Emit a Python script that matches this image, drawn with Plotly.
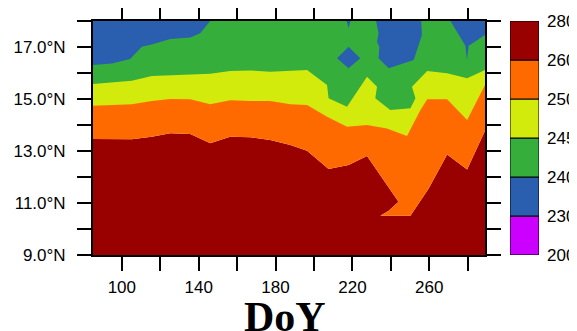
import plotly.graph_objects as go

# ---- axis extents ----
doy_min, doy_max = 85, 289
lat_min, lat_max = 9, 18

# ---- isotherm boundaries (DoY, latitude) ----
doy_260 = [85, 95, 105.2, 115.6, 125.2, 135.6, 146, 156.4, 166.8, 177.2, 187.7, 196.4, 207.6,
           218, 227.6, 238, 244, 238.9, 234.5, 250.2, 259.7, 269.3, 279.7, 289]
lat_260 = [13.46, 13.46, 13.45, 13.55, 13.68, 13.65, 13.30, 13.55, 13.53, 13.42, 13.23, 13.01, 12.31,
           12.46, 12.81, 11.69, 11.05, 10.70, 10.51, 10.51, 11.56, 12.87, 12.29, 13.78]

doy_250 = [85, 95.6, 105.2, 115.6, 125.2, 135.6, 146, 156.4, 166.8, 177.2, 187.7, 196.4, 206.8,
           217.2, 227.6, 238, 248.4, 255.4, 258.9, 269.3, 279.7, 289]
lat_250 = [14.74, 14.77, 14.80, 14.92, 15.00, 14.99, 14.80, 14.95, 14.92, 14.92, 14.80, 14.77, 14.32,
           13.93, 14.00, 13.87, 13.58, 14.58, 14.99, 14.99, 14.19, 15.54]

doy_245 = [85, 95.6, 105.2, 115.6, 125.2, 135.6, 146, 156.4, 166.8, 177.2, 187.7, 196.4, 206.8,
           207.6, 217.2, 227.6, 232.8, 231.9, 239.7, 250.2, 252.8, 251, 258.9, 269.3, 279.7, 289]
lat_245 = [15.58, 15.63, 15.70, 15.88, 15.91, 15.94, 15.97, 16.08, 16.10, 16.05, 16.08, 16.12, 15.54,
           15.03, 14.70, 15.86, 15.47, 15.03, 14.58, 14.64, 15.03, 15.47, 16.08, 15.99, 15.80, 16.12]

# 240 isotherm pieces (blue above / inside)
doy_240a = [85, 94.8, 104.3, 110.4, 115.6, 125.2, 135.6, 140.8, 146, 85]
lat_240a = [16.31, 16.37, 16.54, 17.01, 17.10, 17.31, 17.37, 17.53, 18, 18]
doy_240b = [212, 218, 224.1, 218]
lat_240b = [16.57, 17.01, 16.57, 16.18]
doy_240c = [217, 218, 219]
lat_240c = [18, 17.72, 18]
doy_240d = [232.3, 233.6, 232.8, 234.0, 233.6, 238.9, 251.9, 256.2, 255.8]
lat_240d = [18, 17.53, 17.2, 17.01, 16.57, 16.18, 16.5, 17.46, 18]
doy_240e = [271, 278.8, 279.6, 280.5, 289, 289]
lat_240e = [18, 17.05, 16.5, 17.05, 17.46, 18]

# ---- colour levels ----
levels = [200, 230, 240, 245, 250, 260, 280]
colors = ["#cc00ff", "#2a5fb0", "#36ae3c", "#d2ea0c", "#ff6a00", "#990000"]

# tick labels
x_ticks = [100, 120, 140, 160, 180, 200, 220, 240, 260, 280]
x_labels = ["100", "", "140", "", "180", "", "220", "", "260", ""]
y_ticks = [9, 10, 11, 12, 13, 14, 15, 16, 17, 18]
y_labels = ["9.0°N", "", "11.0°N", "", "13.0°N", "", "15.0°N", "", "17.0°N", ""]

fig = go.Figure()

def band(xs, ys, color):
    fig.add_trace(go.Scatter(x=xs, y=ys, mode="lines", fill="toself", fillcolor=color,
                             line=dict(width=0, color=color), hoverinfo="skip",
                             showlegend=False, xaxis="x", yaxis="y"))

# 260-280 (below 260 isotherm)
band(doy_260 + [doy_max, doy_min], lat_260 + [lat_min, lat_min], colors[5])
# 250-260 (above 260 isotherm)
band(doy_260 + [doy_max, doy_min], lat_260 + [lat_max, lat_max], colors[4])
# 245-250
band(doy_250 + [doy_max, doy_min], lat_250 + [lat_max, lat_max], colors[3])
# 240-245
band(doy_245 + [doy_max, doy_min], lat_245 + [lat_max, lat_max], colors[2])
# 230-240 pieces
for xs, ys in [(doy_240a, lat_240a), (doy_240b, lat_240b), (doy_240c, lat_240c),
               (doy_240d, lat_240d), (doy_240e, lat_240e)]:
    band(xs, ys, colors[1])

# ---- label bar (colour key) ----
n = len(colors)
fig.add_trace(go.Bar(x=[0] * n, y=[1] * n, base=list(range(n)), width=1,
                     marker=dict(color=colors, line=dict(color="black", width=1)),
                     xaxis="x2", yaxis="y2", showlegend=False, hoverinfo="skip"))

tickfont = dict(family="Liberation Sans, Arial, sans-serif", size=17, color="black")
# the page body adds an 8 px offset, so the figure is laid out 8 px up/left
off = 8
W, H = 577, 331
ml, mt = 93 - off, 21 - off
mb = H - (255 - off)
pw = W - ml
ph = H - mt - mb
fig.update_layout(
    width=W, height=H,
    margin=dict(l=ml, r=0, t=mt, b=mb, pad=0, autoexpand=False),
    paper_bgcolor="white", plot_bgcolor="white",
    barmode="overlay",
    xaxis=dict(domain=[0, (485 - off - ml) / pw], range=[doy_min, doy_max], automargin=False,
               tickvals=x_ticks, ticktext=x_labels, ticks="outside", ticklen=14, tickwidth=2,
               tickcolor="black", showline=True, linewidth=2, linecolor="black", mirror="ticks",
               showgrid=False, zeroline=False, tickfont=tickfont, ticklabelstandoff=2),
    yaxis=dict(range=[lat_min, lat_max], tickvals=y_ticks, ticktext=y_labels, ticks="outside",
               ticklen=14, tickwidth=2, tickcolor="black", showline=True, linewidth=2,
               linecolor="black", mirror="ticks", showgrid=False, zeroline=False,
               tickfont=tickfont, ticklabelstandoff=8, automargin=False),
    xaxis2=dict(domain=[(510 - off - ml) / pw, (539 - off - ml) / pw], range=[-0.5, 0.5],
                visible=False, anchor="y2", automargin=False),
    yaxis2=dict(anchor="x2", side="right", range=[0, n], tickvals=list(range(n + 1)),
                ticktext=[str(v) for v in levels], ticks="", showline=False, showgrid=False,
                zeroline=False, tickfont=tickfont, ticklabelstandoff=7, automargin=False),
    annotations=[dict(text="<b>DoY</b>", xref="x domain", x=0.5, xshift=-4, yref="paper",
                      y=-(342 - 255) / ph, yanchor="bottom", showarrow=False,
                      font=dict(family="Liberation Serif, Times New Roman, serif", size=42,
                                color="black"))],
)

fig.write_html("out.html")
